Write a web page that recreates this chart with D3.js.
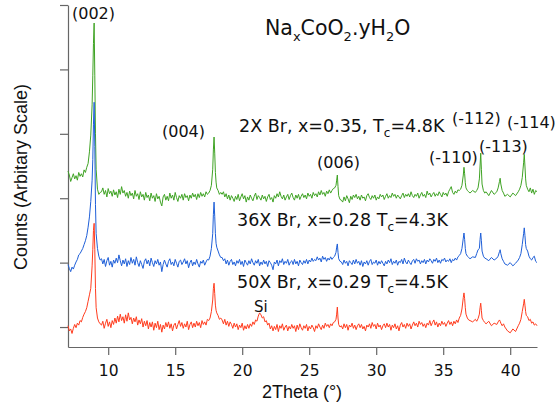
<!DOCTYPE html>
<html>
<head>
<meta charset="utf-8">
<script src="https://cdn.jsdelivr.net/npm/d3@7"></script>
<style>
  body { margin: 0; background: #fff; }
  svg { display: block; }
</style>
</head>
<body>
<svg id="chart" width="556" height="413"></svg>
<script>
// 2Theta grid (degrees), shared by the three patterns
var theta = [
  // 7.0 - 8.4
  7.0, 7.1, 7.2, 7.3, 7.4, 7.5, 7.6, 7.7, 7.8, 7.9,
  8.0, 8.1, 8.2, 8.3, 8.4,
  // (002)
  8.5, 8.6, 8.7, 8.8, 8.85, 8.9, 8.95, 9.0, 9.05, 9.1, 9.2, 9.3, 9.4,
  // 9.5 - 17.4
  9.5, 9.6, 9.7, 9.8, 9.9, 10.0, 10.1, 10.2, 10.3, 10.4,
  10.5, 10.6, 10.7, 10.8, 10.9, 11.0, 11.1, 11.2, 11.3, 11.4,
  11.5, 11.6, 11.7, 11.8, 11.9, 12.0, 12.1, 12.2, 12.3, 12.4,
  12.5, 12.6, 12.7, 12.8, 12.9, 13.0, 13.1, 13.2, 13.3, 13.4,
  13.5, 13.6, 13.7, 13.8, 13.9, 14.0, 14.1, 14.2, 14.3, 14.4,
  14.5, 14.6, 14.7, 14.8, 14.9, 15.0, 15.1, 15.2, 15.3, 15.4,
  15.5, 15.6, 15.7, 15.8, 15.9, 16.0, 16.1, 16.2, 16.3, 16.4,
  16.5, 16.6, 16.7, 16.8, 16.9, 17.0, 17.1, 17.2, 17.3, 17.4,
  // (004)
  17.5, 17.6, 17.7, 17.8, 17.85, 17.9, 17.95, 18.0, 18.05, 18.1, 18.2, 18.3, 18.4,
  // 18.5 - 26.8
  18.5, 18.6, 18.7, 18.8, 18.9, 19.0, 19.1, 19.2, 19.3, 19.4,
  19.5, 19.6, 19.7, 19.8, 19.9, 20.0, 20.1, 20.2, 20.3, 20.4,
  20.5, 20.6, 20.7, 20.8, 20.9, 21.0, 21.1, 21.2, 21.3, 21.4,
  21.5, 21.6, 21.7, 21.8, 21.9, 22.0, 22.1, 22.2, 22.3, 22.4,
  22.5, 22.6, 22.7, 22.8, 22.9, 23.0, 23.1, 23.2, 23.3, 23.4,
  23.5, 23.6, 23.7, 23.8, 23.9, 24.0, 24.1, 24.2, 24.3, 24.4,
  24.5, 24.6, 24.7, 24.8, 24.9, 25.0, 25.1, 25.2, 25.3, 25.4,
  25.5, 25.6, 25.7, 25.8, 25.9, 26.0, 26.1, 26.2, 26.3, 26.4,
  26.5, 26.6, 26.7, 26.8,
  // (006)
  26.9, 27.0, 27.05, 27.1, 27.15, 27.2, 27.3,
  // 27.4 - 36.2
  27.4, 27.5, 27.6, 27.7, 27.8, 27.9, 28.0, 28.1, 28.2, 28.3,
  28.4, 28.5, 28.6, 28.7, 28.8, 28.9, 29.0, 29.1, 29.2, 29.3,
  29.4, 29.5, 29.6, 29.7, 29.8, 29.9, 30.0, 30.1, 30.2, 30.3,
  30.4, 30.5, 30.6, 30.7, 30.8, 30.9, 31.0, 31.1, 31.2, 31.3,
  31.4, 31.5, 31.6, 31.7, 31.8, 31.9, 32.0, 32.1, 32.2, 32.3,
  32.4, 32.5, 32.6, 32.7, 32.8, 32.9, 33.0, 33.1, 33.2, 33.3,
  33.4, 33.5, 33.6, 33.7, 33.8, 33.9, 34.0, 34.1, 34.2, 34.3,
  34.4, 34.5, 34.6, 34.7, 34.8, 34.9, 35.0, 35.1, 35.2, 35.3,
  35.4, 35.5, 35.6, 35.7, 35.8, 35.9, 36.0, 36.1, 36.2,
  // (-110)
  36.3, 36.4, 36.5, 36.55, 36.6, 36.65, 36.7, 36.8, 36.9,
  // (-112)
  37.0, 37.2, 37.4, 37.5, 37.6, 37.7, 37.75, 37.8, 37.85, 37.9, 38.0, 38.1,
  // (-113)
  38.2, 38.4, 38.6, 38.8, 39.0, 39.1, 39.2, 39.25, 39.3, 39.4, 39.5, 39.6,
  // (-114)
  39.8, 40.0, 40.2, 40.4, 40.6, 40.7, 40.8, 40.9, 41.0, 41.05, 41.1, 41.15, 41.2, 41.3, 41.4, 41.5, 41.6, 41.7, 41.8, 41.9, 42.0
]

// counts for each sample (arbitrary units, before stacking)
var green = [
  42, 36, 26, 32, 38, 30, 35, 28, 40, 34,
  38, 33, 44, 40, 48,
  54, 72, 98, 145, 190, 240, 272, 190, 100, 45, 14, 6, 9,
  10, 16, 6, 12, 2, 15, 7, 11, 3, 13,
  5, 10, 1, 14, 6, 18, 8, 12, 3, 9,
  0, 11, 4, 8, -1, 12, 3, 7, -2, 10,
  2, 6, -3, 9, 1, 5, -4, 8, 0, 4,
  -5, 7, -1, 3, -6, -12, 2, 6, -3, 3,
  -4, 8, 0, 5, -3, 9, 1, -5, 4, 0,
  6, -3, 7, 1, 4, -4, 5, 0, 8, 2,
  6, -2, 7, 1, 9, 3, 7, 2, 10, 6,
  8, 12, 20, 45, 75, 95, 70, 40, 25, 16, 12, 6, 9,
  6, 10, 2, 7, -1, 5, -3, 4, 0, -5,
  3, -2, 6, -4, 2, 7, -1, 4, -6, 2,
  -3, 5, 0, -4, 3, 8, -2, 4, 1, -3,
  5, -1, 3, -5, 2, 6, -2, 1, -6, 4,
  0, 7, 2, 10, 3, -1, 5, -3, 2, 6,
  -2, 4, 8, 1, -3, 5, 0, 6, -2, 3,
  7, 1, 5, -1, 8, 3, 6, 0, 9, 4,
  7, 2, 10, 5, 12, 6, 9, 3, 11, 7,
  13, 8, 12, 15,
  16, 20, 28, 36, 18, 4, -2,
  -3, -6, 2, -4, 4, -1, -7, 3, -2, 5,
  1, 6, -1, 3, -3, 5, 0, 2, -4, 4,
  7, 1, -2, 4, 0, 5, -3, 2, -1, 6,
  2, 5, -2, 3, 7, 0, 4, 1, 8, 3,
  6, 0, 5, 2, -1, 4, 8, 1, 6, 3,
  7, 2, 10, 4, 1, 6, 3, 8, 0, 5,
  9, 3, 6, 1, 11, 5, 8, 2, 6, 9,
  3, 7, 4, 10, 6, 2, 9, 5, 8, 3,
  10, 14, 18, 9, 6, 11, 8, 13, 12,
  14, 20, 36, 48, 38, 24, 16, 12, 10,
  8, 12, 9, 12, 16, 30, 50, 70, 45, 22, 12, 8,
  10, 4, 12, 6, 10, 16, 26, 31, 22, 12, 8, 3,
  6, 2, 8, 4, 10, 14, 20, 32, 55, 68, 50, 30, 20, 14, 10, 16, 8, 14, 6, 12, 10
]

var blue = [
  -3, -9, -14, -7, -10, -4, 1, 5, 12, 14,
  18, 22, 28, 34, 42,
  55, 71, 95, 128, 160, 215, 249, 180, 90, 45, 22, 10, 4,
  6, -2, 5, -6, 3, 8, -4, 2, -7, 4,
  -1, 7, 0, 12, 3, -5, 4, -2, 6, -6,
  3, -3, 8, -1, 5, -4, 9, 0, -6, 3,
  -3, -9, 2, 6, -2, 4, -5, 7, 0, -6,
  3, -2, 5, -4, 1, -14, -3, 4, -2, -7,
  2, 6, -3, 1, -5, 5, -1, -7, 2, 4,
  -3, 1, 6, -2, 3, -8, 0, 4, -5, 1,
  -3, 5, -2, -7, 2, -1, 4, -4, 1, 5,
  4, 10, 22, 45, 75, 94, 72, 45, 30, 24, 18, 12, 8,
  8, 3, 6, -2, 4, -4, 2, 5, -3, 1,
  -5, 3, -1, 5, -3, 2, -6, 4, 0, -4,
  3, -2, 6, 0, -4, 3, -1, 5, -5, 1,
  -3, 4, -2, 2, -6, 3, 0, -4, -11, 1,
  -2, 4, -5, 3, 0, 6, -3, 2, -1, 5,
  -4, 1, 3, -3, 5, -2, 2, -5, 4, 0,
  -3, 3, -1, 5, -2, 4, 1, 7, 2, 5,
  3, 9, 4, 7, 1, 10, 5, 8, 2, 7,
  4, 9, 5, 8,
  10, 16, 24, 29, 16, 6, 2,
  1, -3, 4, -1, 2, -5, 3, 0, -3, 4,
  -2, 5, -1, 2, -4, 3, -6, 1, -2, 3,
  -4, 2, 5, -3, 1, -1, 4, -4, 2, -2,
  3, -1, -5, 2, -2, 4, 0, 6, -3, 2,
  -1, 4, -4, 2, 0, 5, -2, 7, 1, -2,
  4, 0, -3, 3, 5, -1, 6, 2, 4, -2,
  3, 0, 5, -2, 4, 1, 6, 3, -1, 5,
  2, 7, 0, 4, -1, 5, 3, 7, 1, 4,
  2, 6, 0, 5, 3, 7, 4, 9, 11,
  14, 22, 38, 46, 36, 22, 14, 10, 8,
  6, 9, 8, 14, 20, 22, 36, 46, 34, 18, 10, 7,
  6, 3, 8, 4, 7, 10, 17, 20, 14, 6, 2, -2,
  -4, 0, -5, -1, 4, 8, 14, 28, 45, 54, 42, 28, 22, 18, 10, 6, 4, 8, 10, 2, 0
]

var red = [
  2, -6, -3, -10, -2, 4, -1, 6, 3, 10,
  8, 15, 20, 24, 30,
  40, 50, 60, 95, 120, 150, 161, 120, 60, 30, 14, 8, 5,
  3, 9, -2, 6, 12, 1, 8, -1, 10, 4,
  14, 6, 17, 8, 20, 10, 16, 6, 19, 9,
  22, 11, 15, 5, 14, 8, 16, 3, 11, 5,
  13, 0, 9, 2, 10, -3, 7, 0, 8, -5,
  6, -1, 9, -4, 4, -8, 3, -3, 7, 0,
  8, -2, 5, -6, 3, 6, -3, 4, 10, 1,
  7, -2, 5, 0, 9, -4, 4, 8, -1, 6,
  0, 9, 2, 7, -1, 10, 4, 8, 3, 12,
  10, 14, 24, 42, 60, 68, 52, 34, 26, 22, 18, 12, 14,
  11, 5, 12, 3, 9, 1, 8, 4, -2, 6,
  0, 5, -4, 3, -1, 6, -5, 2, -3, 4,
  -2, 5, 1, 8, 4, 11, 9, 17, 22, 19,
  14, 16, 8, 10, 3, 6, -3, 2, -6, 1,
  -4, 4, -7, 2, -2, 5, -5, 0, 3, -6,
  1, -3, 4, -2, 2, -7, 3, -4, 5, -1,
  -5, 2, -2, 4, -6, 1, -3, 3, -1, -7,
  2, -2, 5, 0, -4, 3, -2, 6, 1, 4,
  -1, 5, 2, 7,
  8, 12, 20, 31, 14, 4, 0,
  2, -3, 5, -1, 4, -5, 3, 0, 6, -2,
  3, -4, 2, 5, -1, 4, -3, 1, -6, 3,
  0, 5, -2, 7, 1, 4, -3, 6, 0, 3,
  -4, 2, 5, -1, 6, 0, 4, -5, 3, -1,
  5, -3, 2, -6, 3, 7, 0, 4, -2, 6,
  1, 5, -3, 3, 8, 2, 6, 0, 9, 4,
  7, 1, 5, -1, 6, 3, 10, 2, 7, 11,
  3, 8, 0, 6, 2, 9, 4, 7, 1, 6,
  10, 4, 8, 2, 9, 5, 11, 7, 14,
  18, 28, 46, 53, 44, 30, 20, 14, 11,
  10, 8, 12, 9, 13, 20, 30, 37, 26, 14, 10, 7,
  5, 9, 2, 6, 4, 8, 11, 9, 6, 2, 5, 0,
  -6, -9, -3, -7, 2, 6, 12, 24, 36, 43, 34, 24, 18, 16, 10, 12, 6, 8, 3, 5, 2
]

var sampleNames = ['2X Br, x=0.35, T', '36X Br, x=0.28 T', '50X Br, x=0.29 T']
var sampleTc = ['=4.8K', '=4.3K', '=4.5K']
var offsets = [200, 100, 0]
var colors = ['#3fa324', '#1f5fd8', '#ff3c1e']
var peakNames = ['(002)', '(004)', '(006)', '(-110)', '(-112)', '(-113)', '(-114)']
var xTicks = [10, 15, 20, 25, 30, 35, 40]
var yTicks = [0, 100, 200, 300, 400, 500]

if (green.length !== theta.length || blue.length !== theta.length || red.length !== theta.length) {
  console.warn('length mismatch', theta.length, green.length, blue.length, red.length)
}

var svg = d3.select('#chart')
var axisColor = '#666'
var font = '"DejaVu Sans", Verdana, sans-serif'

var x = d3.scaleLinear().domain([7, 42]).range([68, 537])
var y = d3.scaleLinear().domain([-31, 500]).range([347, 5])

// axes
var gx = svg.append('g')
  .attr('transform', 'translate(0,347)')
  .call(d3.axisBottom(x).tickValues(xTicks).tickSize(8).tickPadding(10).tickSizeOuter(0))
gx.selectAll('path, line').attr('stroke', axisColor).attr('stroke-width', 1.2)
gx.selectAll('text').attr('font-family', font).attr('font-size', 15.5).attr('fill', '#111')

var gy = svg.append('g')
  .attr('transform', 'translate(68,0)')
  .call(d3.axisLeft(y).tickValues(yTicks).tickFormat('').tickSize(8).tickSizeOuter(0))
gy.selectAll('path, line').attr('stroke', axisColor).attr('stroke-width', 1.2)

// patterns, stacked
var series = [green, blue, red]
var line = d3.line()
  .x(function (d) { return x(d[0]) })
  .y(function (d) { return y(d[1]) })

series.forEach(function (vals, i) {
  var pts = theta.map(function (t, j) { return [t, vals[j] + offsets[i]] })
  svg.append('path')
    .datum(pts)
    .attr('fill', 'none')
    .attr('stroke', colors[i])
    .attr('stroke-width', 1)
    .attr('stroke-linejoin', 'round')
    .attr('d', line)
})

// peak labels
var peakPos = [[72, 19], [162, 137], [317, 168], [429, 163], [452, 124], [479, 152], [507, 128]]
peakNames.forEach(function (name, i) {
  svg.append('text')
    .attr('x', peakPos[i][0]).attr('y', peakPos[i][1])
    .attr('font-family', font).attr('font-size', 16).attr('fill', '#111')
    .text(name)
})
svg.append('text')
  .attr('x', 254).attr('y', 312)
  .attr('font-family', font).attr('font-size', 15).attr('fill', '#111')
  .text('Si')

// sample labels with subscript c
var labelPos = [[239, 132], [237, 226], [237, 288]]
sampleNames.forEach(function (name, i) {
  var t = svg.append('text')
    .attr('x', labelPos[i][0]).attr('y', labelPos[i][1])
    .attr('font-family', font).attr('font-size', 17.5).attr('fill', '#111')
  t.append('tspan').text(name)
  t.append('tspan').attr('dy', 5).attr('font-size', 12).text('c')
  t.append('tspan').attr('dy', -5).text(sampleTc[i])
})

// formula
var title = svg.append('text')
  .attr('x', 265).attr('y', 35)
  .attr('font-family', font).attr('font-size', 20.5).attr('fill', '#111')
var parts = [['Na', 0], ['x', 1], ['CoO', 0], ['2', 1], ['.yH', 0], ['2', 1], ['O', 0]]
var prev = 0
parts.forEach(function (p) {
  var shift = p[1] ? 6 : 0
  title.append('tspan')
    .attr('dy', shift - prev)
    .attr('font-size', p[1] ? 13 : 20.5)
    .text(p[0])
  prev = shift
})

// axis titles
svg.append('text')
  .attr('transform', 'translate(27,177) rotate(-90)')
  .attr('text-anchor', 'middle')
  .attr('font-family', '"Liberation Sans", Arial, sans-serif')
  .attr('font-size', 18).attr('fill', '#111')
  .text('Counts (Arbitary Scale)')

svg.append('text')
  .attr('x', 302).attr('y', 398)
  .attr('text-anchor', 'middle')
  .attr('font-family', '"Liberation Sans", Arial, sans-serif')
  .attr('font-size', 18).attr('fill', '#111')
  .text('2Theta (°)')
</script>
</body>
</html>
